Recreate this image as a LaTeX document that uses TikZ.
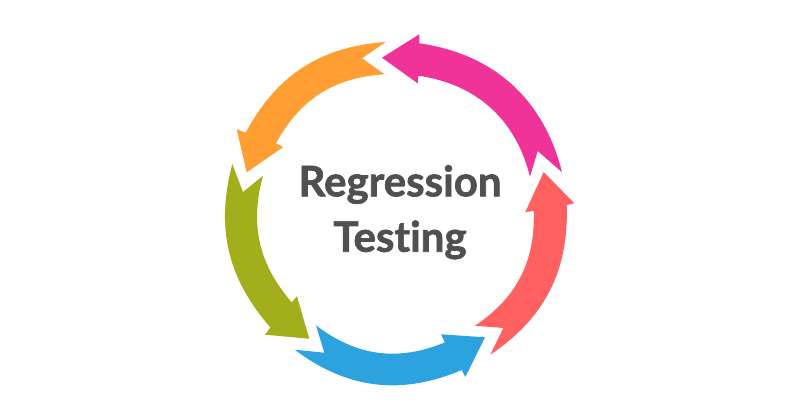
\documentclass[tikz,border=0pt]{standalone}
\usepackage{fontspec}
\setmainfont[Ligatures=NoCommon,BoldFeatures={FakeBold=1.6}]{Lato}
\definecolor{cycleorange}{HTML}{FF9F33}
\definecolor{cyclepink}{HTML}{EF3399}
\definecolor{cyclered}{HTML}{FF6060}
\definecolor{cycleblue}{HTML}{2CA3DF}
\definecolor{cyclegreen}{HTML}{A3AE1C}
\definecolor{titlegrey}{HTML}{505050}
\tikzset{
  title/.style={text=titlegrey, font=\fontsize{23.9}{24}\selectfont\bfseries, inner sep=0pt, anchor=base},
}
\begin{document}
\begin{tikzpicture}[x=.02cm, y=-.02cm]
  \useasboundingbox (0,0) rectangle (800,410);

  \fill[cycleorange] (385.7,42) -- (362,58.3) -- (384.7,74.3)
    to[bend right=29] (276,143.3) -- (283.3,147) -- (246.7,172.3)
    -- (236.7,129.3) -- (245.7,132.7) to[bend left=29] cycle;

  \fill[cyclepink] (382,57.7) -- (419.3,34.3) -- (419.3,43.3)
    to[bend left=34] (562,172.3) -- (537.7,151) -- (530,176.7)
    to[bend right=34] (418.3,75.7) -- (417.7,83.3) -- cycle;

  \fill[cyclered] (543.7,172) -- (574.3,203.3) -- (566.7,205)
    to[bend left=29] (490.3,354.7) -- (503.3,328) -- (475,325.7)
    to[bend right=29] (533.7,211) -- (525.3,212) -- cycle;

  \fill[cycleblue] (316,325.3) -- (324.3,352.7) -- (294.7,349.7)
    to[bend right=30] (461.7,370) -- (465.3,377) -- (485,337.3)
    -- (441,334.3) -- (445,342.3) to[bend left=30] cycle;

  \fill[cyclegreen] (232.3,164) -- (243,192) -- (263,175.7)
    to[bend right=28] (291.7,302.3) -- (297,296.3) -- (309.3,338.7)
    -- (265,334.7) -- (270.3,327.3) to[bend left=28] cycle;

  \node[title] (regression) at (400,196.3) {Regression};
  \node[title] (testing) at (400,251.7) {Testing};
\end{tikzpicture}
\end{document}
